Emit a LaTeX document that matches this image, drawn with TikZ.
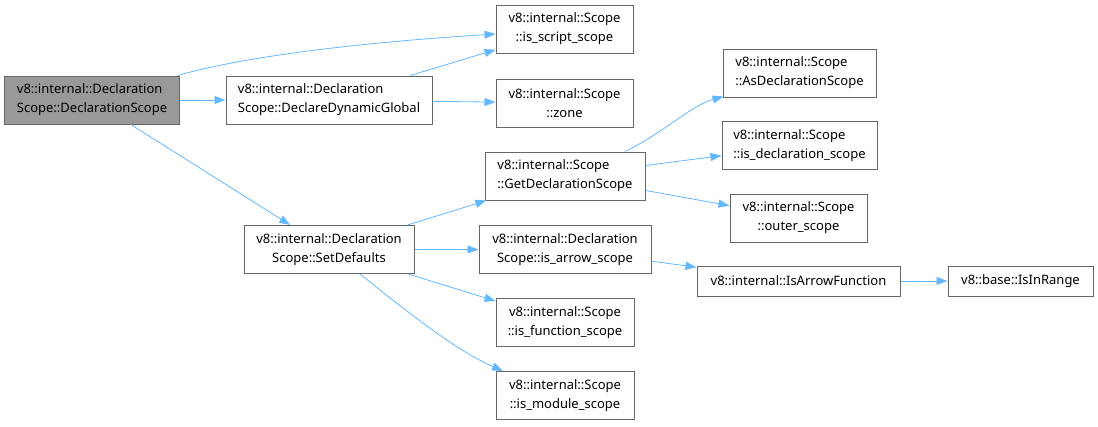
\documentclass[tikz,border=0pt]{standalone}
\usepackage{fontspec}
\setmainfont{Noto Sans}
\usetikzlibrary{arrows.meta}
\definecolor{edgeblue}{HTML}{63B8FF}
\definecolor{rootgray}{HTML}{999999}
\definecolor{framegray}{HTML}{666666}

\begin{document}
\begin{tikzpicture}[x=1bp, y=-1bp,
    fn/.style={draw=framegray, line width=1bp, fill=white, inner sep=0pt,
      font=\fontsize{13bp}{19bp}\selectfont, align=center, minimum height=48bp},
    fnone/.style={fn, minimum height=30bp},
    call/.style={draw=edgeblue, line width=0.8bp, -{Triangle[length=11bp, width=8bp]}}]
    \useasboundingbox (0,0) rectangle (1098,426);

    % first column
    \node[fn, fill=rootgray, align=left, minimum width=174bp] (ds) at (92,100)
        {v8::internal::Declaration\\Scope::DeclarationScope};

    % second column
    \node[fn, align=left, minimum width=206bp] (ddg) at (329,100)
        {v8::internal::Declaration\\Scope::DeclareDynamicGlobal};
    \node[fn, minimum width=170bp] (sd) at (329,249.5)
        {v8::internal::Declaration\\Scope::SetDefaults};

    % third column
    \node[fn, minimum width=137bp] (iss) at (564.5,29)
        {v8::internal::Scope\\::is\_script\_scope};
    \node[fn, minimum width=137bp] (zone) at (564.5,103)
        {v8::internal::Scope\\::zone};
    \node[fn, align=left, minimum width=160bp] (gds) at (565,176)
        {v8::internal::Scope\\::GetDeclarationScope};
    \node[fn, minimum width=172bp] (ias) at (565,249.5)
        {v8::internal::Declaration\\Scope::is\_arrow\_scope};
    \node[fn, minimum width=138bp] (ifs) at (565,322.5)
        {v8::internal::Scope\\::is\_function\_scope};
    \node[fn, minimum width=138bp] (ims) at (565,395.5)
        {v8::internal::Scope\\::is\_module\_scope};

    % fourth column
    \node[fn, align=left, minimum width=153bp] (ads) at (799.5,73)
        {v8::internal::Scope\\::AsDeclarationScope};
    \node[fn, align=left, minimum width=155bp] (ids) at (799.5,145.5)
        {v8::internal::Scope\\::is\_declaration\_scope};
    \node[fn, minimum width=137bp] (os) at (798.5,218)
        {v8::internal::Scope\\::outer\_scope};
    \node[fnone, minimum width=203bp] (iaf) at (798.5,281)
        {v8::internal::IsArrowFunction};

    % last column
    \node[fnone, minimum width=145bp] (iir) at (1020.5,281)
        {v8::base::IsInRange};

    % calls
    \draw[call] ([xshift=-2bp]ds.north east) .. controls (260,52) and (400,40) .. ([yshift=-5bp]iss.west);
    \draw[call] (ds) -- (ddg);
    \draw[call] (ds) -- (sd);
    \draw[call] (ddg) -- (iss);
    \draw[call] (ddg) -- (zone);
    \draw[call] (sd) -- (gds);
    \draw[call] (sd) -- (ias);
    \draw[call] (sd) -- (ifs);
    \draw[call] ([xshift=31bp]sd.south) .. controls (405,310) and (455,350) .. ([xshift=-62bp]ims.north);
    \draw[call] ([xshift=60bp]gds.north) .. controls (665,132) and (690,106) .. ([xshift=-76bp,yshift=1bp]ads.south);
    \draw[call] (gds) -- (ids);
    \draw[call] (gds) -- (os);
    \draw[call] (ias) -- (iaf);
    \draw[call] (iaf) -- (iir);
\end{tikzpicture}
\end{document}
